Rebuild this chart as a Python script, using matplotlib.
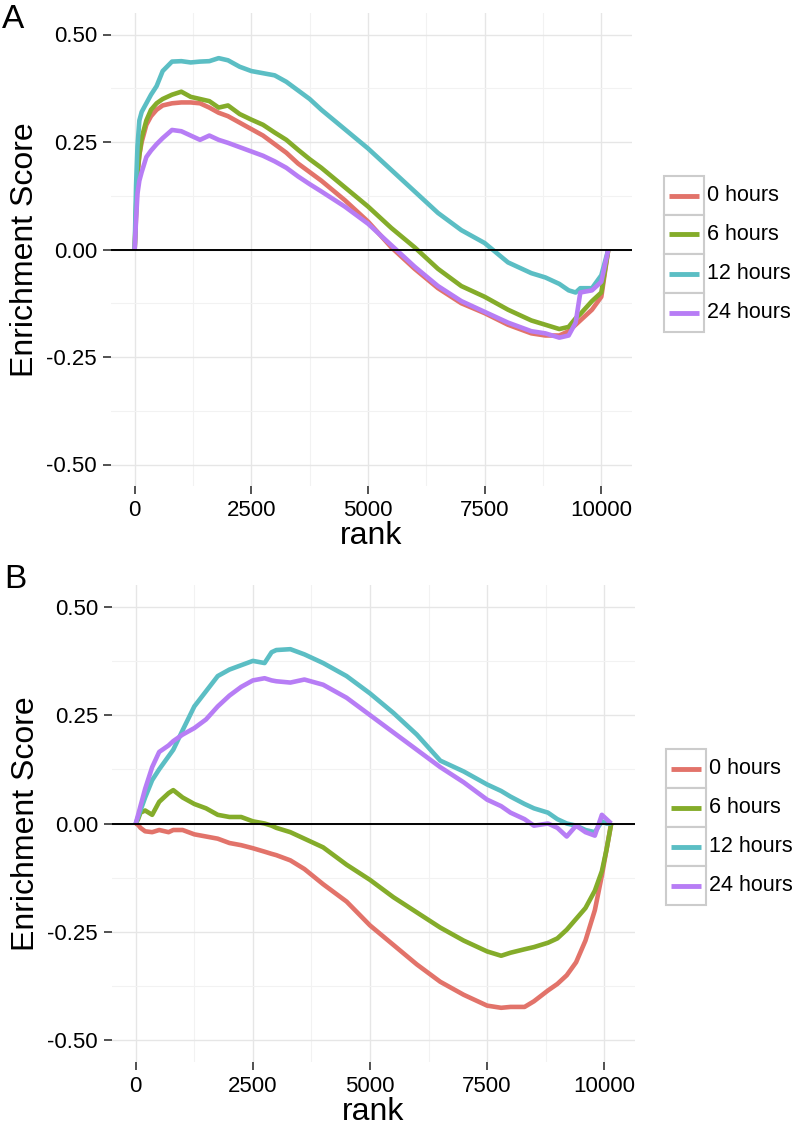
import numpy as np
import matplotlib
matplotlib.use('Agg')
import matplotlib.pyplot as plt
from matplotlib.patches import Rectangle
from matplotlib.lines import Line2D

plt.rcParams['font.family'] = ['Liberation Sans', 'DejaVu Sans']
plt.rcParams['axes.unicode_minus'] = False

# series labels and colours
labels = ['0 hours', '6 hours', '12 hours', '24 hours']
colors = ['#E2736A', '#84AC2A', '#5BBEC4', '#B77DF5']

x_ticks = [0, 2500, 5000, 7500, 10000]
x_ticklabels = ['0', '2500', '5000', '7500', '10000']
y_ticks = [-0.5, -0.25, 0.0, 0.25, 0.5]
y_ticklabels = ['-0.50', '-0.25', '0.00', '0.25', '0.50']

# Panel A
rank_a = [0, 30, 60, 100, 150, 250, 350, 470, 600, 800, 1000, 1200, 1400, 1600,
          1800, 2000, 2250, 2500, 2750, 3000, 3250, 3500, 3750, 4000, 4500, 5000,
          5500, 6000, 6500, 7000, 7500, 8000, 8500, 8800, 9100, 9300, 9450, 9550,
          9800, 10000, 10150]
a_0h = [0, 0.08, 0.17, 0.22, 0.25, 0.29, 0.31, 0.325, 0.335, 0.34, 0.342, 0.342, 0.34, 0.33,
        0.318, 0.31, 0.295, 0.28, 0.265, 0.245, 0.225, 0.2, 0.18, 0.16, 0.115, 0.065,
        0.005, -0.045, -0.09, -0.125, -0.148, -0.175, -0.195, -0.2, -0.2, -0.19, -0.175, -0.165,
        -0.14, -0.11, 0]
a_6h = [0, 0.1, 0.18, 0.22, 0.26, 0.3, 0.325, 0.34, 0.35, 0.36, 0.367, 0.355, 0.35, 0.345,
        0.33, 0.335, 0.315, 0.302, 0.29, 0.272, 0.255, 0.232, 0.21, 0.19, 0.145, 0.1,
        0.05, 0.005, -0.045, -0.085, -0.11, -0.14, -0.165, -0.175, -0.185, -0.18, -0.16, -0.15,
        -0.12, -0.1, 0]
a_12h = [0, 0.15, 0.24, 0.3, 0.32, 0.34, 0.36, 0.38, 0.415, 0.437, 0.438, 0.435, 0.437, 0.438,
         0.445, 0.44, 0.425, 0.415, 0.41, 0.405, 0.39, 0.37, 0.35, 0.325, 0.28, 0.235,
         0.185, 0.135, 0.085, 0.045, 0.015, -0.03, -0.055, -0.065, -0.08, -0.095, -0.1, -0.09,
         -0.09, -0.06, 0]
a_24h = [0, 0.07, 0.13, 0.16, 0.18, 0.215, 0.23, 0.245, 0.259, 0.278, 0.275, 0.265, 0.255, 0.265,
         0.255, 0.248, 0.238, 0.228, 0.218, 0.205, 0.19, 0.17, 0.152, 0.135, 0.1, 0.06,
         0.01, -0.04, -0.085, -0.12, -0.145, -0.17, -0.19, -0.195, -0.205, -0.2, -0.17, -0.1,
         -0.095, -0.075, 0]

# Panel B
rank_b = [0, 50, 100, 200, 350, 500, 700, 800, 1000, 1250, 1500, 1750, 2000, 2250,
          2500, 2750, 2900, 3000, 3300, 3600, 4000, 4500, 5000, 5500, 6000, 6500,
          7000, 7500, 7800, 8000, 8300, 8500, 8800, 9000, 9200, 9400, 9600, 9800,
          9950, 10050, 10150]
b_0h = [0, -0.003, -0.01, -0.018, -0.02, -0.015, -0.02, -0.015, -0.015, -0.025, -0.03, -0.035, -0.045, -0.05,
        -0.057, -0.065, -0.07, -0.073, -0.085, -0.105, -0.14, -0.18, -0.235, -0.28, -0.325, -0.365,
        -0.395, -0.42, -0.425, -0.423, -0.423, -0.41, -0.385, -0.37, -0.35, -0.32, -0.27, -0.2,
        -0.12, -0.06, 0]
b_6h = [0, 0.01, 0.025, 0.03, 0.02, 0.05, 0.07, 0.077, 0.06, 0.045, 0.035, 0.02, 0.015, 0.015,
        0.005, 0.0, -0.005, -0.01, -0.02, -0.035, -0.055, -0.095, -0.13, -0.17, -0.205, -0.24,
        -0.27, -0.295, -0.305, -0.298, -0.29, -0.285, -0.275, -0.265, -0.245, -0.22, -0.195, -0.155,
        -0.11, -0.06, 0]
b_12h = [0, 0.015, 0.03, 0.06, 0.1, 0.125, 0.155, 0.17, 0.215, 0.27, 0.305, 0.34, 0.355, 0.365,
         0.375, 0.37, 0.395, 0.4, 0.402, 0.39, 0.37, 0.34, 0.3, 0.255, 0.205, 0.145,
         0.12, 0.09, 0.075, 0.062, 0.045, 0.035, 0.025, 0.01, 0.0, -0.005, -0.015, -0.02,
         0.005, 0.0, 0]
b_24h = [0, 0.02, 0.04, 0.08, 0.13, 0.165, 0.18, 0.19, 0.205, 0.22, 0.24, 0.27, 0.295, 0.315,
         0.33, 0.335, 0.33, 0.328, 0.325, 0.332, 0.32, 0.29, 0.25, 0.21, 0.17, 0.13,
         0.095, 0.055, 0.04, 0.025, 0.01, -0.005, 0.0, -0.01, -0.03, -0.005, -0.02, -0.028,
         0.02, 0.01, 0]

W, H = 797, 1126
fig = plt.figure(figsize=(W / 100, H / 100), dpi=100)


def setup_panel(ax, rank, series):
    for vals, c in zip(series, colors):
        ax.plot(rank, vals, color=c, lw=3.3, solid_capstyle='butt', zorder=3)
    ax.axhline(0, color='black', lw=1.4, zorder=4)
    n = max(rank)
    ax.set_xlim(-0.05 * n, 1.05 * n)
    ax.set_ylim(-0.55, 0.55)
    ax.set_xticks(x_ticks)
    ax.set_xticklabels(x_ticklabels)
    ax.set_yticks(y_ticks)
    ax.set_yticklabels(y_ticklabels)
    ax.set_xticks([1250, 3750, 6250, 8750], minor=True)
    ax.set_yticks([-0.375, -0.125, 0.125, 0.375], minor=True)
    ax.grid(which='major', color='#e6e6e6', lw=1.0, zorder=0)
    ax.grid(which='minor', color='#f2f2f2', lw=0.8, zorder=0)
    ax.tick_params(which='major', labelsize=16, length=6, width=1.2, color='#333333',
                   labelcolor='black', pad=4)
    ax.tick_params(which='minor', length=0)
    for s in ax.spines.values():
        s.set_visible(False)
    ax.set_axisbelow(True)
    ax.set_xlabel('rank', fontsize=23, labelpad=0)
    ax.set_ylabel('Enrichment Score', fontsize=23, labelpad=5)


def draw_legend(left, top):
    kw, kh = 40, 39
    for i, (lab, c) in enumerate(zip(labels, colors)):
        y0 = top + i * kh
        fig.add_artist(Rectangle((left / W, 1 - (y0 + kh) / H), kw / W, kh / H,
                                 transform=fig.transFigure, facecolor='white',
                                 edgecolor='#cccccc', lw=1.5))
        yc = 1 - (y0 + kh / 2) / H
        fig.add_artist(Line2D([(left + 5) / W, (left + kw - 5) / W], [yc, yc],
                              transform=fig.transFigure, color=c, lw=3.5,
                              solid_capstyle='butt'))
        fig.text((left + kw + 3) / W, yc, lab, fontsize=15.5, va='center', ha='left')


ax_a = fig.add_axes([111 / W, 1 - 486 / H, (632 - 111) / W, (486 - 13) / H])
setup_panel(ax_a, rank_a, [a_0h, a_6h, a_12h, a_24h])
draw_legend(664, 176)
fig.text(2 / W, 1 - 20 / H, 'A', fontsize=24, va='center', ha='left')

ax_b = fig.add_axes([112 / W, 1 - 1062 / H, (635 - 112) / W, (1062 - 585) / H])
setup_panel(ax_b, rank_b, [b_0h, b_6h, b_12h, b_24h])
draw_legend(666, 749)
fig.text(4 / W, 1 - 580 / H, 'B', fontsize=24, va='center', ha='left')

fig.savefig('out.png', dpi=100)
